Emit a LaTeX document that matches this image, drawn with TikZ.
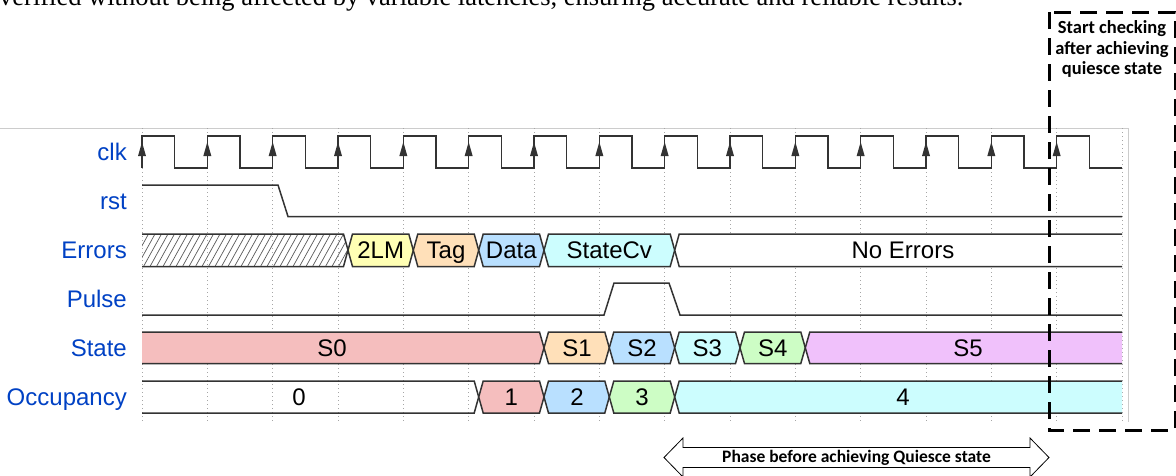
\documentclass[tikz,border=0pt]{standalone}
\usepackage{fontspec}
\setmainfont{Liberation Sans}
\newfontfamily\serifface{Liberation Serif}
\newfontfamily\calface{Carlito}
\definecolor{lbl}{HTML}{0041C4}
\definecolor{cY}{HTML}{FFFFB4}
\definecolor{cO}{HTML}{FFE0B9}
\definecolor{cB}{HTML}{B9E0FF}
\definecolor{cC}{HTML}{CCFDFE}
\definecolor{cG}{HTML}{CDFDC5}
\definecolor{cP}{HTML}{F0C1FB}
\definecolor{cR}{HTML}{F5BEBE}
\definecolor{wline}{HTML}{333333}
\newcommand\busmid[5]{%
  \filldraw[bus,fill=#5] (#1,{(#3+#4)/2}) -- ({#1+4.5},#3) -- ({#2-4.5},#3) -- (#2,{(#3+#4)/2}) -- ({#2-4.5},#4) -- ({#1+4.5},#4) -- cycle;}
\newcommand\busfirst[5]{%
  \fill[#5] (#1,#3) -- ({#2-4.5},#3) -- (#2,{(#3+#4)/2}) -- ({#2-4.5},#4) -- (#1,#4) -- cycle;
  \draw[bus] (#1,#3) -- ({#2-4.5},#3) -- (#2,{(#3+#4)/2}) -- ({#2-4.5},#4) -- (#1,#4);}
\newcommand\buslast[5]{%
  \fill[#5] (#2,#3) -- ({#1+4.5},#3) -- (#1,{(#3+#4)/2}) -- ({#1+4.5},#4) -- (#2,#4) -- cycle;
  \draw[bus] (#2,#3) -- ({#1+4.5},#3) -- (#1,{(#3+#4)/2}) -- ({#1+4.5},#4) -- (#2,#4);}
\tikzset{
  bus/.style={draw=wline, line width=1.5pt, line join=miter},
  wave/.style={draw=wline, line width=1.5pt},
  grid/.style={draw=black!35, line width=0.6pt, dash pattern=on 1pt off 3pt},
  hatch/.style={draw=black!65, line width=0.7pt},
  lab/.style={anchor=base east, inner sep=0pt, text=lbl, font=\fontsize{24}{28}\selectfont},
  dat/.style={anchor=base, inner sep=0pt, text=black, font=\fontsize{24}{28}\selectfont},
  dbox/.style={draw=black, line width=3pt, dash pattern=on 17pt off 9pt},
  note/.style={inner sep=0pt, font=\calface\bfseries\fontsize{18.5}{20.5}\selectfont, align=center},
}
\begin{document}
\begin{tikzpicture}[x=1pt, y=-1pt]
\useasboundingbox (0,0) rectangle (1176,475);
\clip (0,0) rectangle (1176,475);
% top cut-off sentence
\node[anchor=base west, inner sep=0pt, font=\serifface\fontsize{26.5}{30}\selectfont] (toptext) at (-1,5)
  {verified without being affected by variable latencies, ensuring accurate and reliable results.};
% chart panel border
\draw[black!20, line width=1pt] (0,128) -- (1128,128) -- (1128,422);
% grid
\foreach \k in {0,...,15} \draw[grid] ({142+65.3333*\k},128) -- ({142+65.3333*\k},422);
% labels
\node[lab] (lclk) at (127,160) {clk};
\node[lab] (lrst) at (127,209) {rst};
\node[lab] (lerr) at (127,258) {Errors};
\node[lab] (lpul) at (127,307) {Pulse};
\node[lab] (lsta) at (127,356) {State};
\node[lab] (locc) at (127,405) {Occupancy};
% clock
\draw[wave] (142,168) \foreach \k in {0,...,14} { -- ({142+65.3333*\k},136) -- ({142+65.3333*\k+32.6667},136) -- ({142+65.3333*\k+32.6667},168) -- ({142+65.3333*(\k+1)},168) };
\foreach \k in {0,...,14} \fill[wline] ({142+65.3333*\k-4},156) -- ({142+65.3333*\k},142) -- ({142+65.3333*\k+4},156) -- cycle;
% rst
\draw[wave] (142,185) -- (278,185) -- (288,216.5) -- (1122,216.5);
% pulse
\draw[wave] (142,315) -- (604,315) -- (614,283) -- (669,283) -- (680,315) -- (1122,315);
% Errors
\begin{scope}
\clip (142,234) -- (343.5,234) -- (348,250) -- (343.5,266.5) -- (142,266.5) -- cycle;
\foreach \i in {0,...,36} \draw[hatch] ({124+6.5*\i},266.5) -- ({142+6.5*\i},234);
\end{scope}
\draw[bus] (142,234) -- (343.5,234) -- (348,250) -- (343.5,266.5) -- (142,266.5);
\busmid{348}{413.3}{234}{266.5}{cY}
\busmid{413.3}{478.7}{234}{266.5}{cO}
\busmid{478.7}{544}{234}{266.5}{cB}
\busmid{544}{674.7}{234}{266.5}{cC}
\buslast{674.7}{1122}{234}{266.5}{white}
\node[dat] (e1) at (380.7,258) {2LM};
\node[dat] (e2) at (446,258) {Tag};
\node[dat] (e3) at (511.3,258) {Data};
\node[dat] (e4) at (609.3,258) {StateCv};
\node[dat] (e5) at (903,258) {No Errors};
% State
\busfirst{142}{544}{332}{363.5}{cR}
\busmid{544}{609.3}{332}{363.5}{cO}
\busmid{609.3}{674.7}{332}{363.5}{cB}
\busmid{674.7}{740}{332}{363.5}{cC}
\busmid{740}{805.3}{332}{363.5}{cG}
\buslast{805.3}{1122}{332}{363.5}{cP}
\node[dat] (s0) at (332,356) {S0};
\node[dat] (s1) at (577,356) {S1};
\node[dat] (s2) at (642,356) {S2};
\node[dat] (s3) at (707.3,356) {S3};
\node[dat] (s4) at (772.7,356) {S4};
\node[dat] (s5) at (968,356) {S5};
% Occupancy
\draw[bus] (142,381) -- (474.2,381) -- (478.7,397) -- (474.2,413) -- (142,413);
\busmid{478.7}{544}{381}{413}{cR}
\busmid{544}{609.3}{381}{413}{cB}
\busmid{609.3}{674.7}{381}{413}{cG}
\buslast{674.7}{1122}{381}{413}{cC}
\node[dat] (o0) at (299,405) {0};
\node[dat] (o1) at (511.3,405) {1};
\node[dat] (o2) at (577,405) {2};
\node[dat] (o3) at (642,405) {3};
\node[dat] (o4) at (903,405) {4};
% dashed box
\draw[dbox] (1049,12) -- (1049,430) -- (1175,430) -- (1175,12) -- cycle;
\node[note] (boxtxt) at (1112,49) {Start checking\\after achieving\\quiesce state};
% double arrow
\draw[black, line width=0.8pt, fill=white] (664,457.5) -- (683,438) -- (683,447.5) -- (1030,447.5) -- (1030,438) -- (1049,457.5) -- (1030,477) -- (1030,467.5) -- (683,467.5) -- (683,477) -- cycle;
\node[note, font=\calface\bfseries\fontsize{17.5}{20}\selectfont] (phase) at (856.5,458) {Phase before achieving Quiesce state};
\end{tikzpicture}
\end{document}
